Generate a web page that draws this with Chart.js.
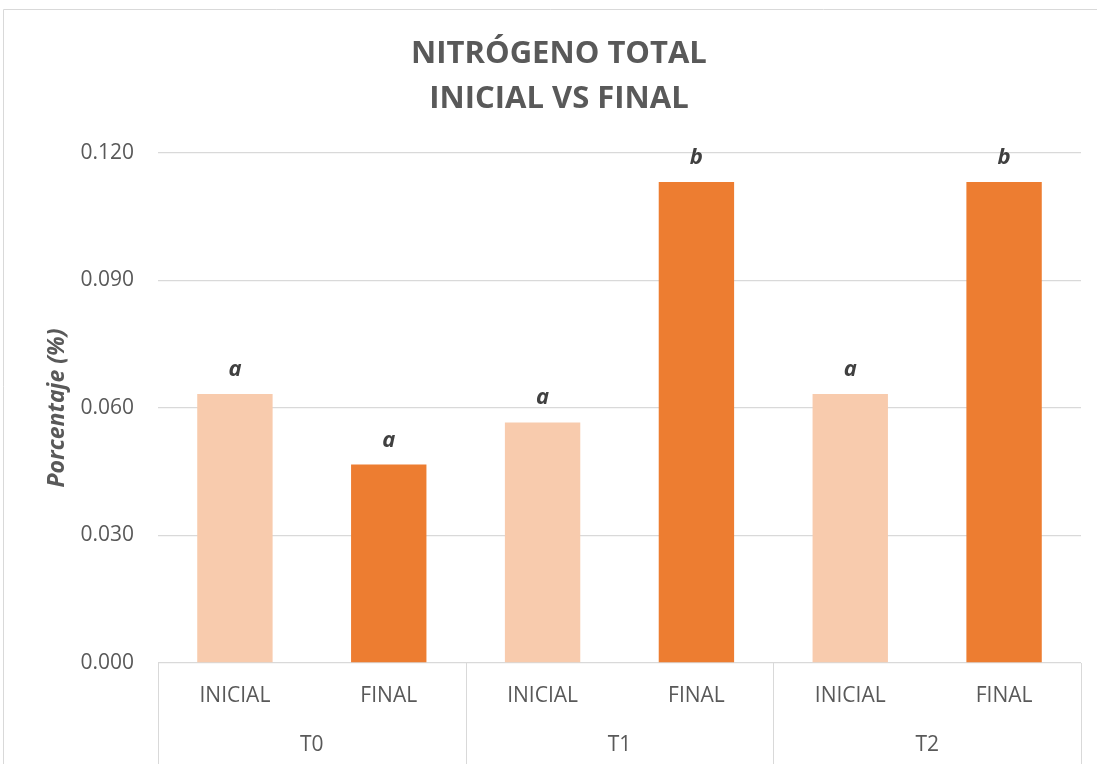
<!DOCTYPE html>
<html>
<head>
<meta charset="utf-8">
<script src="https://cdn.jsdelivr.net/npm/chart.js@4.4.1/dist/chart.umd.min.js"></script>
<style>
  html, body { margin: 0; padding: 0; background: #fff; }
  #wrap { width: 1097px; height: 764px; position: relative; }
</style>
</head>
<body>
<div id="wrap"><canvas id="mainChart" width="1097" height="764"></canvas></div>
<script>
// Datos
const categorias = ['INICIAL', 'FINAL', 'INICIAL', 'FINAL', 'INICIAL', 'FINAL'];
const grupos = ['T0', 'T1', 'T2'];
const valores = [0.0633, 0.0467, 0.0566, 0.1132, 0.0633, 0.1132];
const letras = ['a', 'a', 'a', 'b', 'a', 'b'];
const yTicks = [0, 0.03, 0.06, 0.09, 0.12];

const colorInicial = '#F8CBAD';
const colorFinal = '#ED7D31';
const gris = '#D9D9D9';
const texto = '#595959';

// Marco, titulo, grupos del eje X y letras de significancia
const extrasPlugin = {
  id: 'extras',
  beforeDraw(chart) {
    const ctx = chart.ctx;
    ctx.save();
    ctx.strokeStyle = gris;
    ctx.lineWidth = 1;
    ctx.beginPath();
    ctx.moveTo(3.5, 764);
    ctx.lineTo(3.5, 9.5);
    ctx.lineTo(1097, 9.5);
    ctx.stroke();
    ctx.restore();
  },
  afterDraw(chart) {
    const ctx = chart.ctx;
    const area = chart.chartArea;
    const x = chart.scales.x;
    ctx.save();

    // titulo
    ctx.fillStyle = texto;
    ctx.textAlign = 'center';
    ctx.textBaseline = 'middle';
    ctx.font = "bold 31px 'Open Sans'";
    ctx.fillText('NITRÓGENO TOTAL', 559, 54);
    ctx.fillText('INICIAL VS FINAL', 559, 99);

    // separadores de grupo
    const paso = (area.right - area.left) / categorias.length;
    ctx.strokeStyle = gris;
    ctx.lineWidth = 1;
    for (let g = 0; g <= grupos.length; g++) {
      const gx = Math.round(area.left + g * 2 * paso) + 0.5;
      ctx.beginPath();
      ctx.moveTo(gx, area.bottom);
      ctx.lineTo(gx, 764);
      ctx.stroke();
    }
    ctx.font = "21px 'Open Sans'";
    ctx.fillStyle = texto;
    grupos.forEach((g, i) => {
      const cx = (x.getPixelForValue(i * 2) + x.getPixelForValue(i * 2 + 1)) / 2;
      ctx.fillText(g, cx, 745);
    });

    // letras
    const meta = chart.getDatasetMeta(0);
    ctx.font = "italic bold 22px 'Open Sans'";
    ctx.fillStyle = '#404040';
    ctx.textBaseline = 'alphabetic';
    meta.data.forEach((bar, i) => {
      ctx.fillText(letras[i], bar.x, bar.y - 18);
    });
    ctx.restore();
  }
};

new Chart(document.getElementById('mainChart'), {
  type: 'bar',
  data: {
    labels: categorias,
    datasets: [{
      data: valores,
      backgroundColor: categorias.map(c => c === 'INICIAL' ? colorInicial : colorFinal),
      barPercentage: 0.49,
      categoryPercentage: 1
    }]
  },
  options: {
    responsive: false,
    animation: false,
    layout: { padding: { top: 153, right: 16, left: 0, bottom: 0 } },
    plugins: {
      legend: { display: false },
      tooltip: { enabled: false }
    },
    scales: {
      x: {
        grid: { display: false, drawTicks: false },
        border: { display: false },
        ticks: {
          padding: 20,
          color: texto,
          font: { family: 'Open Sans', size: 21 },
          maxRotation: 0
        },
        afterFit: s => { s.height = 101; }
      },
      y: {
        min: 0,
        max: 0.12,
        afterBuildTicks: s => { s.ticks = yTicks.map(v => ({ value: v })); },
        grid: { color: gris, lineWidth: 1.3, drawTicks: false },
        border: { display: false },
        ticks: {
          padding: 24,
          color: texto,
          font: { family: 'Open Sans', size: 21 },
          callback: v => v.toFixed(3)
        },
        title: {
          display: true,
          text: 'Porcentaje (%)',
          color: texto,
          font: { family: 'Open Sans', size: 23, style: 'italic', weight: 'bold' },
          padding: { top: 44 }
        },
        afterFit: s => { s.width = 158; }
      }
    }
  },
  plugins: [extrasPlugin]
});
</script>
</body>
</html>
